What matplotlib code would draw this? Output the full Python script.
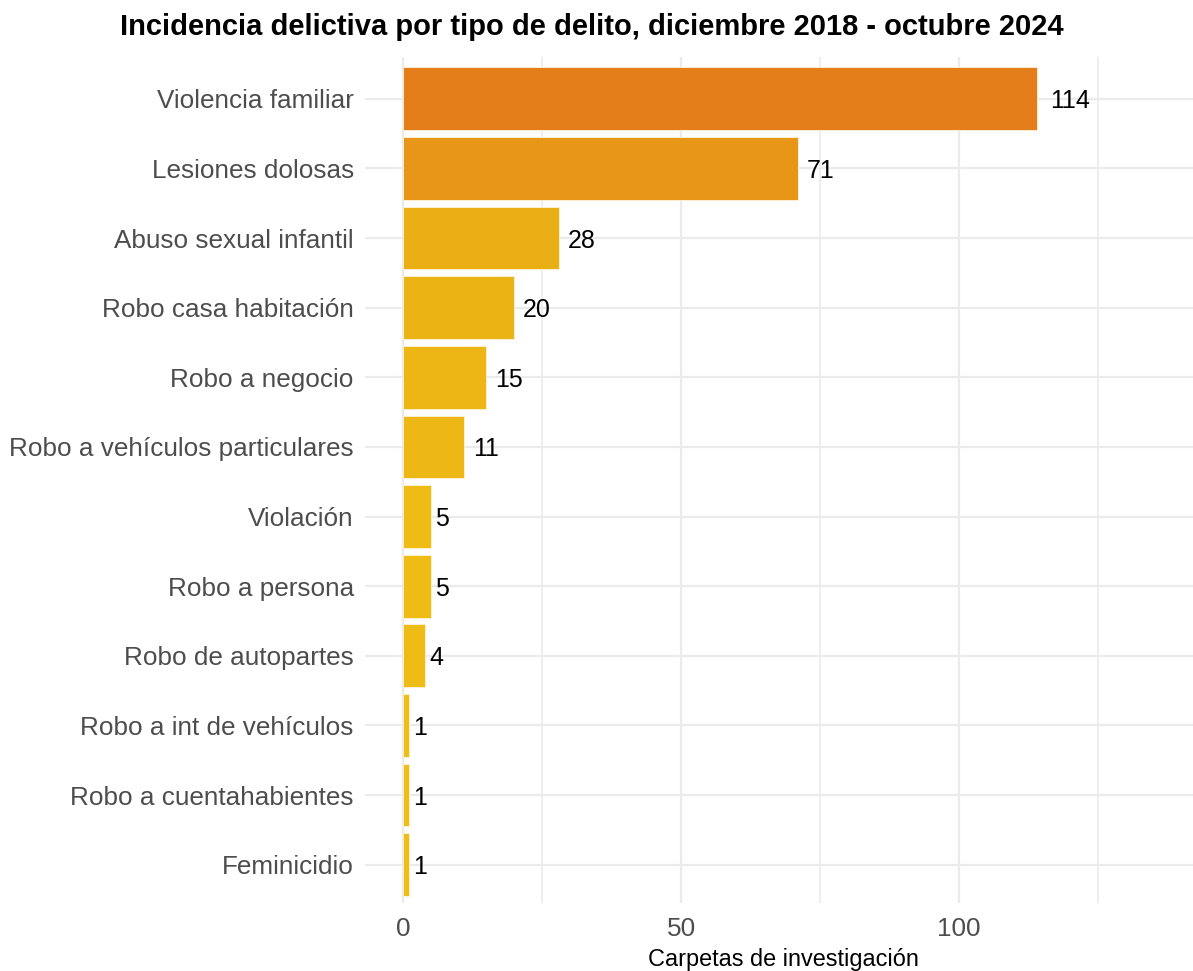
import matplotlib
matplotlib.use("Agg")
import matplotlib.pyplot as plt
import matplotlib.colors as mcolors
import numpy as np

plt.rcParams['font.family'] = ['Liberation Sans', 'DejaVu Sans']

categories = [
    "Violencia familiar",
    "Lesiones dolosas",
    "Abuso sexual infantil",
    "Robo casa habitación",
    "Robo a negocio",
    "Robo a vehículos particulares",
    "Violación",
    "Robo a persona",
    "Robo de autopartes",
    "Robo a int de vehículos",
    "Robo a cuentahabientes",
    "Feminicidio",
]
values = [114, 71, 28, 20, 15, 11, 5, 5, 4, 1, 1, 1]
x_ticks = [0, 50, 100]
x_minor = [25, 75, 125]

title = "Incidencia delictiva por tipo de delito, diciembre 2018 - octubre 2024"
x_label = "Carpetas de investigación"

W, H = 1193, 971
fig = plt.figure(figsize=(W / 100, H / 100), dpi=100)

# panel placement in pixels
xmax_lim = max(values) * 1.2
x_lo = -0.05 * xmax_lim
x_hi = 1.05 * xmax_lim
px_per_unit = (959 - 403) / 100.0
left_px = 403 + x_lo * px_per_unit
right_px = 403 + x_hi * px_per_unit
top_px, bottom_px = 57, 903
ax = fig.add_axes([left_px / W, 1 - bottom_px / H,
                   (right_px - left_px) / W, (bottom_px - top_px) / H])

n = len(categories)
ypos = np.arange(n)[::-1]  # first category on top

low = np.array(mcolors.to_rgb("#EEBE14"))
high = np.array(mcolors.to_rgb("#E37E1B"))
vmax = max(values)
vmin = min(values)
colors = [low + (high - low) * (v - vmin) / (vmax - vmin) for v in values]

ax.barh(ypos, values, height=0.9, color=colors, edgecolor="#FFF3DC",
        linewidth=0.6, zorder=3)

for y, v in zip(ypos, values):
    txt = str(v)
    ax.annotate(txt, xy=(v, y), xytext=(4.5 * len(txt), 0),
                textcoords="offset pixels", ha="left", va="center_baseline",
                fontsize=18, color="black", zorder=4)

ax.set_xlim(x_lo, x_hi)
ax.set_ylim(-0.55, n - 1 + 0.6)

ax.set_yticks(ypos)
ax.set_yticklabels(categories, fontsize=18.8, color="#4D4D4D")
ax.set_xticks(x_ticks)
ax.set_xticklabels([str(t) for t in x_ticks], fontsize=18.8, color="#4D4D4D")
ax.set_xticks(x_minor, minor=True)
ax.tick_params(axis="both", which="both", length=0)
ax.tick_params(axis="y", pad=8)
ax.tick_params(axis="x", pad=10)

ax.grid(True, which="major", axis="both", color="#EBEBEB", linewidth=1.6, zorder=0)
ax.grid(True, which="minor", axis="x", color="#EBEBEB", linewidth=1.2, zorder=0)
for s in ax.spines.values():
    s.set_visible(False)

ax.set_xlabel(x_label, fontsize=16.9, color="black", labelpad=5)

fig.text((117 + 1066) / 2 / W, 1 - 27 / H, title, ha="center", va="center",
         fontsize=21, fontweight="bold", color="black")

fig.savefig("out.png", dpi=100, facecolor="white")
